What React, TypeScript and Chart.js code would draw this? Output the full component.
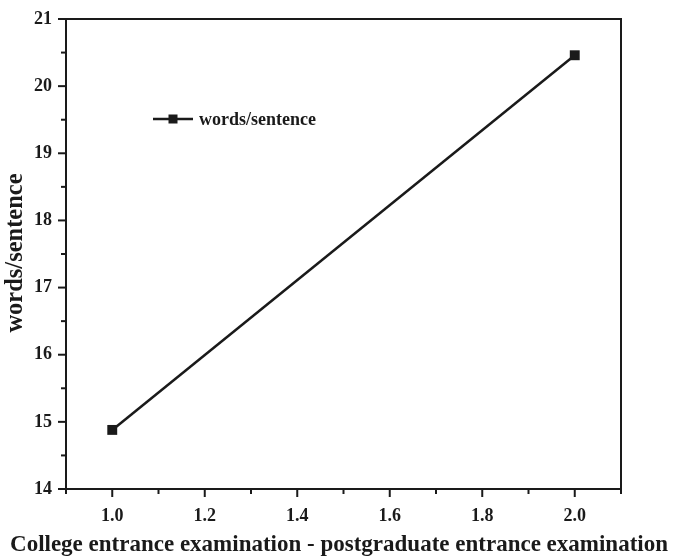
import React, { useEffect, useRef } from "react";
import { Chart, registerables } from "chart.js";

Chart.register(...registerables);

const xValues = [1.0, 2.0];
const wordsPerSentence = [14.88, 20.46];
const seriesLabel = "words/sentence";
const xTitle = "College entrance examination - postgraduate entrance examination";
const yTitle = "words/sentence";

const FONT = "'Liberation Serif', 'Times New Roman', serif";
const INK = "#1a1a1a";

const frameAndTicks = {
  id: "frameAndTicks",
  afterDraw(chart: any) {
    const { ctx, chartArea } = chart;
    const xs = chart.scales.x;
    const ys = chart.scales.y;
    ctx.save();
    ctx.strokeStyle = INK;
    ctx.lineWidth = 2;
    ctx.strokeRect(chartArea.left, chartArea.top, chartArea.right - chartArea.left, chartArea.bottom - chartArea.top);
    for (let i = 0; i <= 12; i++) {
      const v = 0.9 + i * 0.1;
      const px = xs.getPixelForValue(v);
      const major = i % 2 === 1;
      ctx.beginPath();
      ctx.moveTo(px, chartArea.bottom);
      ctx.lineTo(px, chartArea.bottom + (major ? 8 : 5));
      ctx.stroke();
    }
    for (let i = 0; i <= 14; i++) {
      const v = 14 + i * 0.5;
      const py = ys.getPixelForValue(v);
      const major = i % 2 === 0;
      ctx.beginPath();
      ctx.moveTo(chartArea.left, py);
      ctx.lineTo(chartArea.left - (major ? 8 : 5), py);
      ctx.stroke();
    }
    // legend
    const lx = chartArea.left + 87;
    const ly = chartArea.top + 100;
    ctx.lineWidth = 2.5;
    ctx.beginPath();
    ctx.moveTo(lx, ly);
    ctx.lineTo(lx + 40, ly);
    ctx.stroke();
    ctx.fillStyle = INK;
    ctx.fillRect(lx + 20 - 4.5, ly - 4.5, 9, 9);
    ctx.font = `bold 18px ${FONT}`;
    ctx.textAlign = "left";
    ctx.textBaseline = "middle";
    ctx.fillText(seriesLabel, lx + 46, ly + 1);
    // axis titles
    ctx.textAlign = "center";
    ctx.textBaseline = "middle";
    ctx.font = `bold 23px ${FONT}`;
    ctx.fillText(xTitle, 339, 545);
    ctx.font = `bold 24.5px ${FONT}`;
    ctx.translate(16, 253);
    ctx.rotate(-Math.PI / 2);
    ctx.fillText(yTitle, 0, 0);
    ctx.restore();
  },
};

export default function App() {
  const ref = useRef<HTMLCanvasElement>(null);
  useEffect(() => {
    document.body.style.margin = "0";
    const chart = new Chart(ref.current!, {
      type: "line",
      data: {
        datasets: [
          {
            label: seriesLabel,
            data: xValues.map((x, i) => ({ x, y: wordsPerSentence[i] })),
            borderColor: INK,
            backgroundColor: INK,
            borderWidth: 2.5,
            pointStyle: "rect",
            pointRadius: 7,
            pointHoverRadius: 7,
            pointBorderWidth: 0,
          },
        ],
      },
      options: {
        animation: false,
        responsive: false,
        layout: { padding: { top: 19, right: 57, left: 0, bottom: 0 } },
        plugins: { legend: { display: false }, tooltip: { enabled: false } },
        scales: {
          x: {
            type: "linear",
            min: 0.9,
            max: 2.1,
            afterFit: (s: any) => {
              s.height = 67;
              s.paddingLeft = 0;
              s.paddingRight = 0;
            },
            afterBuildTicks: (s: any) => {
              s.ticks = [1.0, 1.2, 1.4, 1.6, 1.8, 2.0].map((v) => ({ value: v }));
            },
            grid: { display: false, drawTicks: false },
            border: { display: false },
            ticks: {
              color: INK,
              padding: 17,
              font: { family: FONT, size: 18, weight: "bold" },
              callback: (v: any) => Number(v).toFixed(1),
            },
          },
          y: {
            type: "linear",
            min: 14,
            max: 21,
            afterFit: (s: any) => {
              s.width = 66;
              s.paddingTop = 0;
              s.paddingBottom = 0;
            },
            afterBuildTicks: (s: any) => {
              s.ticks = [14, 15, 16, 17, 18, 19, 20, 21].map((v) => ({ value: v }));
            },
            grid: { display: false, drawTicks: false },
            border: { display: false },
            ticks: {
              color: INK,
              padding: 14,
              font: { family: FONT, size: 18, weight: "bold" },
            },
          },
        },
      },
      plugins: [frameAndTicks],
    });
    return () => chart.destroy();
  }, []);
  return <canvas ref={ref} width={678} height={556} style={{ display: "block" }} />;
}
